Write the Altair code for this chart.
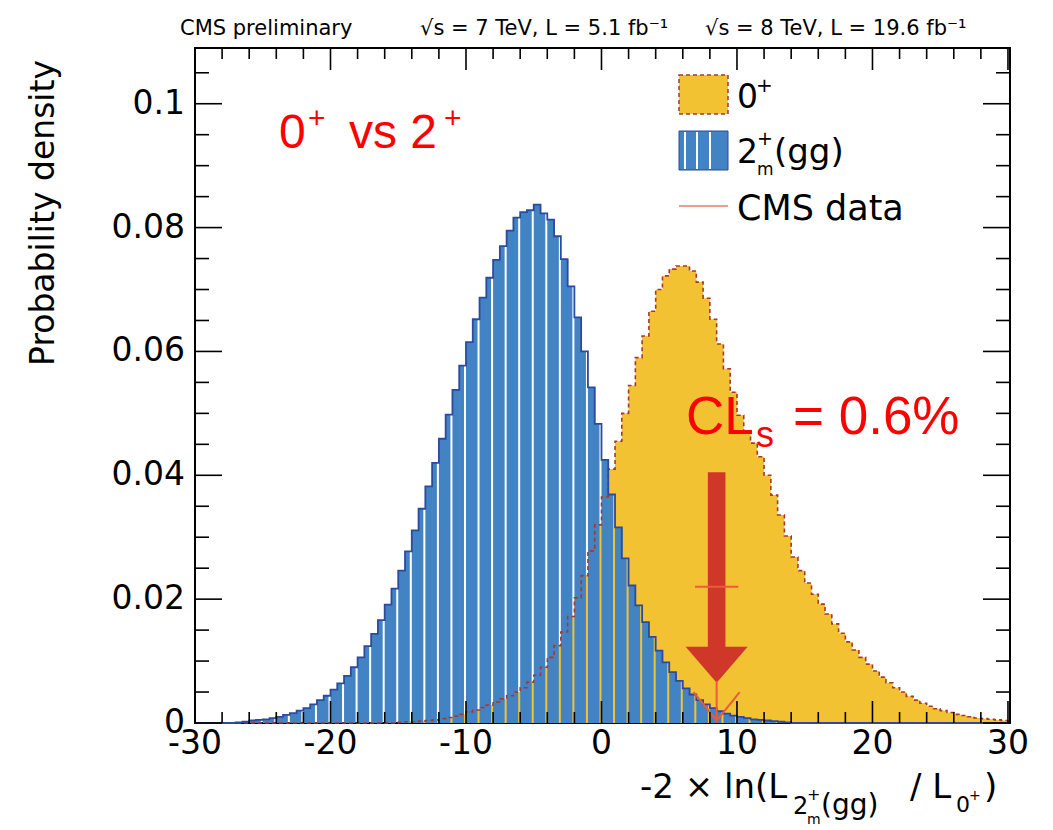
import altair as alt
import pandas as pd

# ---------------- data ----------------
BIN_WIDTH = 0.5
BLUE_START = -27.0   # 2+m(gg) hypothesis
BLUE_DENSITY = [
    0.0001, 0.0002, 0.0004, 0.0005, 0.0006, 0.0008, 0.0010, 0.0013, 0.0016, 0.0020,
    0.0024, 0.0030, 0.0037, 0.0044, 0.0054, 0.0064, 0.0076, 0.0090, 0.0106, 0.0124,
    0.0144, 0.0166, 0.0191, 0.0217, 0.0246, 0.0277, 0.0311, 0.0346, 0.0382, 0.0420,
    0.0459, 0.0498, 0.0538, 0.0577, 0.0615, 0.0652, 0.0687, 0.0719, 0.0748, 0.0770,
    0.0795, 0.0816, 0.0825, 0.0828, 0.0837,
    0.0823, 0.0813, 0.0786, 0.0749, 0.0705, 0.0655, 0.0600, 0.0542, 0.0483, 0.0425,
    0.0369, 0.0316, 0.0266, 0.0222, 0.0190, 0.0163, 0.0139, 0.0117, 0.0098, 0.0082,
    0.0068, 0.0056, 0.0046, 0.0037, 0.0030, 0.0024, 0.0019, 0.0015, 0.0012, 0.0010,
    0.0008, 0.0006, 0.0005, 0.0004, 0.0003, 0.0002, 0.0001,
]
YELLOW_START = -15.0  # 0+ hypothesis
YELLOW_DENSITY = [
    0.0001, 0.0002, 0.0002, 0.0003, 0.0004, 0.0005, 0.0007, 0.0009, 0.0011, 0.0014,
    0.0018, 0.0021, 0.0025, 0.0029, 0.0034, 0.0039, 0.0044, 0.0050, 0.0057, 0.0066,
    0.0077, 0.0090, 0.0106, 0.0125, 0.0147, 0.0172, 0.0202, 0.0238, 0.0278, 0.0320,
    0.0365, 0.0410, 0.0455, 0.0500, 0.0545, 0.0590, 0.0625, 0.0665, 0.0700, 0.0722,
    0.0733, 0.0738, 0.0738, 0.0730, 0.0712, 0.0686, 0.0652, 0.0612, 0.0572, 0.0534,
    0.0497, 0.0470, 0.0452, 0.0430, 0.0400, 0.0368, 0.0336, 0.0302, 0.0268, 0.0246,
    0.0226, 0.0208, 0.0192, 0.0176, 0.0160, 0.0145, 0.0131, 0.0118, 0.0106, 0.0095,
    0.0084, 0.0074, 0.0065, 0.0057, 0.0050, 0.0043, 0.0037, 0.0032, 0.0027, 0.0023,
    0.0020, 0.0017, 0.0014, 0.0012, 0.0010, 0.0008, 0.0007, 0.0006, 0.0005, 0.0004,
]
OBSERVED = 8.5          # CMS data value
ARROW_TOP = 0.0405
ARROW_HEAD_TOP = 0.0122
ARROW_HEAD_MID = 0.0094
CROSSBAR_Y = 0.022

X_TICKS_MAJOR = [-30, -20, -10, 0, 10, 20, 30]
X_TICK_LABELS = ["-30", "-20", "-10", "0", "10", "20", "30"]
X_TICKS_MINOR = [-28, -26, -24, -22, -18, -16, -14, -12, -8, -6, -4, -2,
                 2, 4, 6, 8, 12, 14, 16, 18, 22, 24, 26, 28]
Y_TICKS_MAJOR = [0, 0.02, 0.04, 0.06, 0.08, 0.1]
Y_TICK_LABELS = ["0", "0.02", "0.04", "0.06", "0.08", "0.1"]
Y_TICKS_MINOR = [0.005, 0.01, 0.015, 0.025, 0.03, 0.035, 0.045, 0.05, 0.055,
                 0.065, 0.07, 0.075, 0.085, 0.09, 0.095, 0.105]

# ---------------- styling ----------------
W, H = 815, 675
LEFT, TOP = 195, 48
XDOM = [-30, 30.15]
YDOM = [0, 0.109]
YELLOW = "#F2C233"
YELLOW_LINE = "#A8382C"
BLUE = "#4283C3"
BLUE_LINE = "#2D4A9E"
ARROW_RED = "#CF3828"
DATA_RED = "#EE5A3A"
FONT = "DejaVu Sans"

xs = alt.Scale(domain=XDOM, nice=False, zero=False)
ys = alt.Scale(domain=YDOM, nice=False, zero=False)


def X(f):
    return alt.X(f, scale=xs, axis=None)


def Y(f):
    return alt.Y(f, scale=ys, axis=None)


def edges(start, n):
    return [start + BIN_WIDTH * i for i in range(n + 1)]


def step_area_df(start, vals):
    e = edges(start, len(vals))
    return pd.DataFrame({"x": e, "v": vals + [vals[-1]]})


def outline_df(start, vals):
    e = edges(start, len(vals))
    pts = [(-30.0, 0.0), (e[0], 0.0)]
    for i, v in enumerate(vals):
        pts.append((e[i], v))
        pts.append((e[i + 1], v))
    pts.append((e[-1], 0.0))
    if e[-1] < 30:
        pts.append((30.0, 0.0))
    return pd.DataFrame({"x": [p[0] for p in pts], "v": [p[1] for p in pts],
                         "o": list(range(len(pts)))})


def bars_df(start, vals, gap):
    e = edges(start, len(vals))
    rows = [(e[i], e[i + 1], v) for i, v in enumerate(vals) if (i % 2 == 1) == gap]
    return pd.DataFrame({"x0": [r[0] for r in rows], "x1": [r[1] for r in rows],
                         "v": [r[2] for r in rows], "z": [0.0] * len(rows)})


dummy = pd.DataFrame({"a": [0]})


def txt(s, x, y, size, color="black", font=FONT, align="left",
        baseline="alphabetic", angle=0):
    return alt.Chart(dummy).mark_text(
        text=s, align=align, baseline=baseline, font=font, fontSize=size,
        color=color, angle=angle
    ).encode(x=alt.value(x - LEFT), y=alt.value(y - TOP))


def prect(x0, x1, y0, y1, **kw):
    return alt.Chart(dummy).mark_rect(**kw).encode(
        x=alt.value(x0 - LEFT), x2=alt.value(x1 - LEFT),
        y=alt.value(y0 - TOP), y2=alt.value(y1 - TOP))


def prule(x0, x1, y0, y1, **kw):
    return alt.Chart(dummy).mark_rule(**kw).encode(
        x=alt.value(x0 - LEFT), x2=alt.value(x1 - LEFT),
        y=alt.value(y0 - TOP), y2=alt.value(y1 - TOP))


# ---------------- histograms ----------------
yellow_area = alt.Chart(step_area_df(YELLOW_START, YELLOW_DENSITY)).mark_area(
    interpolate="step-after", color=YELLOW
).encode(x=X("x:Q"), y=Y("v:Q"))

blue_full = alt.Chart(bars_df(BLUE_START, BLUE_DENSITY, False)).mark_rect(
    color=BLUE, x2Offset=0.6
).encode(x=X("x0:Q"), x2="x1:Q", y=Y("v:Q"), y2="z:Q")
blue_gap = alt.Chart(bars_df(BLUE_START, BLUE_DENSITY, True)).mark_rect(
    color=BLUE, x2Offset=-2
).encode(x=X("x0:Q"), x2="x1:Q", y=Y("v:Q"), y2="z:Q")

blue_outline = alt.Chart(outline_df(BLUE_START, BLUE_DENSITY)).mark_line(
    color=BLUE_LINE, strokeWidth=1.8
).encode(x=X("x:Q"), y=Y("v:Q"), order="o:Q")
yellow_outline = alt.Chart(outline_df(YELLOW_START, YELLOW_DENSITY)).mark_line(
    color=YELLOW_LINE, strokeWidth=1.6, strokeDash=[4, 3]
).encode(x=X("x:Q"), y=Y("v:Q"), order="o:Q")

# ---------------- observed value and arrow ----------------
shaft = alt.Chart(pd.DataFrame({
    "x0": [OBSERVED - 0.65], "x1": [OBSERVED + 0.65],
    "y0": [ARROW_TOP], "y1": [ARROW_HEAD_TOP]})).mark_rect(color=ARROW_RED).encode(
    x=X("x0:Q"), x2="x1:Q", y=Y("y0:Q"), y2="y1:Q")
head = alt.Chart(pd.DataFrame({"x": [OBSERVED], "y": [ARROW_HEAD_MID]})).mark_point(
    shape="M-1,-0.58L1,-0.58L0,0.58Z", size=3844, filled=True, opacity=1,
    color=ARROW_RED
).encode(x=X("x:Q"), y=Y("y:Q"))

data_lines = alt.Chart(pd.DataFrame({
    "x0": [OBSERVED, OBSERVED - 1.7, OBSERVED + 1.7, OBSERVED - 1.6],
    "x1": [OBSERVED, OBSERVED, OBSERVED, OBSERVED + 1.6],
    "y0": [0.0, 0.0050, 0.0050, CROSSBAR_Y],
    "y1": [0.0068, 0.0004, 0.0004, CROSSBAR_Y]})).mark_rule(
    color=DATA_RED, strokeWidth=2
).encode(x=X("x0:Q"), x2="x1:Q", y=Y("y0:Q"), y2="y1:Q")

# ---------------- inward ticks and tick labels ----------------
def xticks(vals, length):
    d = pd.DataFrame({"t": vals})
    bottom = alt.Chart(d).mark_rule(color="black", strokeWidth=1.6).encode(
        x=X("t:Q"), y=alt.value(H), y2=alt.value(H - length))
    top = alt.Chart(d).mark_rule(color="black", strokeWidth=1.6).encode(
        x=X("t:Q"), y=alt.value(0), y2=alt.value(length))
    return [bottom, top]


def yticks(vals, length):
    d = pd.DataFrame({"t": vals})
    left = alt.Chart(d).mark_rule(color="black", strokeWidth=1.6).encode(
        y=Y("t:Q"), x=alt.value(0), x2=alt.value(length))
    right = alt.Chart(d).mark_rule(color="black", strokeWidth=1.6).encode(
        y=Y("t:Q"), x=alt.value(W), x2=alt.value(W - length))
    return [left, right]


ticks = (xticks(X_TICKS_MAJOR, 22) + xticks(X_TICKS_MINOR, 11)
         + yticks(Y_TICKS_MAJOR, 27) + yticks(Y_TICKS_MINOR, 14))

x_labels = alt.Chart(pd.DataFrame({"t": X_TICKS_MAJOR, "s": X_TICK_LABELS})).mark_text(
    font=FONT, fontSize=33, color="black", align="center", baseline="top"
).encode(x=X("t:Q"), y=alt.value(H + 5), text="s:N")
y_labels = alt.Chart(pd.DataFrame({"t": Y_TICKS_MAJOR, "s": Y_TICK_LABELS})).mark_text(
    font=FONT, fontSize=33, color="black", align="right", baseline="middle"
).encode(y=Y("t:Q"), x=alt.value(-10), text="s:N")

# ---------------- legend ----------------
legend = [
    prect(679, 728, 75, 114, color=YELLOW, stroke=YELLOW_LINE, strokeWidth=1.5,
          strokeDash=[4, 3]),
    prect(679, 728, 131, 170, color=BLUE, stroke=BLUE_LINE, strokeWidth=1),
    prect(684, 686, 132, 169, color="white"),
    prect(696, 698, 132, 169, color="white"),
    prect(709, 711, 132, 169, color="white"),
    prule(679, 728, 206, 206, color="#F29A90", strokeWidth=2),
    txt("0", 737, 108, 33),
    txt("+", 756, 92, 20),
    txt("2", 737, 163, 33),
    txt("+", 757, 145, 19),
    txt("m", 757, 175, 17),
    txt("(gg)", 774, 163, 34),
    txt("CMS data", 737, 220, 35),
]

# ---------------- texts ----------------
texts = [
    txt("CMS preliminary", 180, 35, 21),
    txt("\u221as = 7 TeV, L = 5.1 fb\u207b\u00b9", 420, 35, 21),
    txt("\u221as = 8 TeV, L = 19.6 fb\u207b\u00b9", 705, 35, 21),
    txt("Probability density", 54, 60, 33, align="right", angle=270),
    txt("-2 \u00d7 ln(L", 640, 798, 34),
    txt("2", 793, 814, 24),
    txt("+", 807, 800, 16),
    txt("m", 807, 824, 14),
    txt("(gg)", 821, 814, 28),
    txt("/ L", 910, 798, 34),
    txt("0", 956, 812, 22),
    txt("+", 969, 800, 14),
    txt(")", 984, 798, 34),
    txt("0", 279, 148, 48, color="#FF0000", font="Liberation Sans"),
    txt("+", 308, 128, 30, color="#FF0000", font="Liberation Sans"),
    txt("vs 2", 349, 148, 48, color="#FF0000", font="Liberation Sans"),
    txt("+", 444, 128, 30, color="#FF0000", font="Liberation Sans"),
    txt("CL", 686, 434, 53, color="#FF0000", font="Liberation Sans"),
    txt("s", 756, 447, 36, color="#FF0000", font="Liberation Sans"),
    txt("= 0.6%", 793, 434, 53, color="#FF0000", font="Liberation Sans"),
]

chart = alt.layer(
    yellow_area, blue_full, blue_gap, yellow_outline, blue_outline,
    shaft, head, data_lines, *ticks, x_labels, y_labels, *legend, *texts
).properties(
    width=W, height=H,
    autosize=alt.AutoSizeParams(type="none"),
    padding={"left": LEFT, "top": TOP, "right": 1053 - LEFT - W, "bottom": 830 - TOP - H},
    background="white",
).configure_view(stroke="black", strokeWidth=2)

chart.save("out.html", embed_options={"renderer": "svg", "actions": False})
